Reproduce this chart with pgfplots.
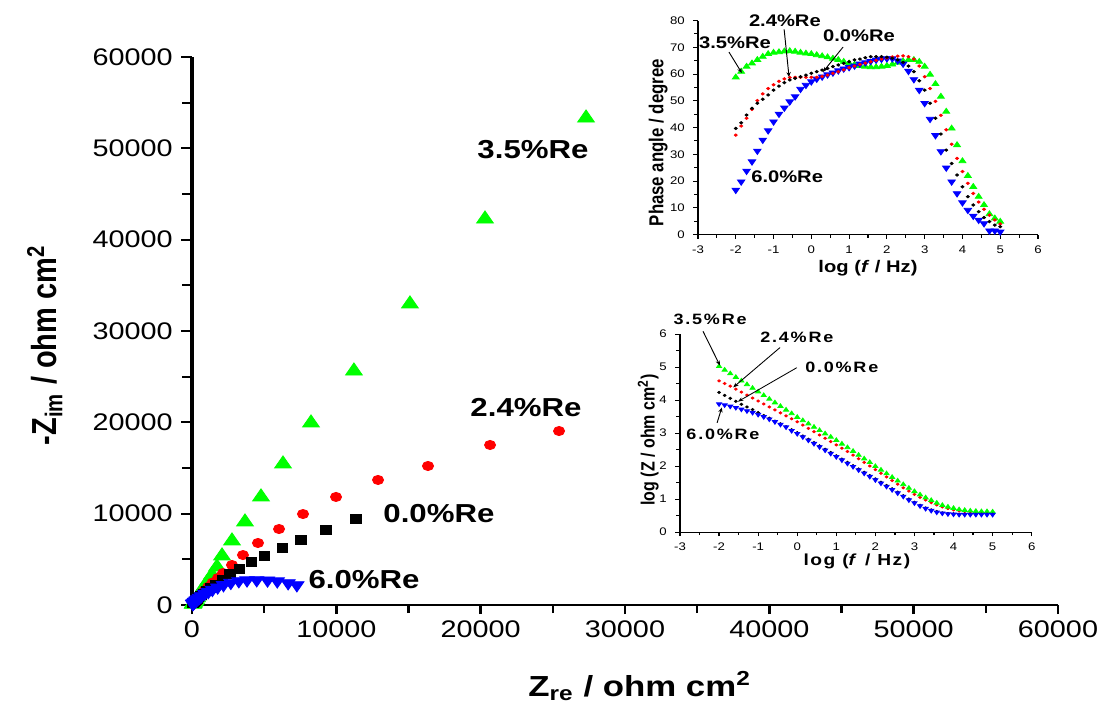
\documentclass[border=0pt]{standalone}
\usepackage{fontspec}
\setmainfont{Liberation Sans}
\usepackage{graphicx}
\usepackage{pgfplots}
\pgfplotsset{compat=1.18}
\usepackage{pgfplotstable}
\usetikzlibrary{arrows.meta}

\definecolor{cgreen}{RGB}{0,255,0}
\definecolor{cred}{RGB}{255,0,0}
\definecolor{cblue}{RGB}{0,0,255}

% Nyquist data (Z_re, -Z_im) in ohm cm^2
\pgfplotstableread{
x y
11360 9420
9280 8210
7550 7120
6240 6240
4990 5370
4090 4710
3260 3940
2630 3390
2080 2740
1640 2250
1290 1860
1010 1530
790 1260
620 1030
480 840
375 690
290 560
225 455
175 370
135 300
105 245
82 200
64 160
}\nyqZero
\pgfplotstableread{
x y
25430 19050
20650 17520
16350 15220
12890 13690
9980 11830
7690 9960
6030 8320
4570 6790
3530 5470
2770 4380
2150 3500
1800 2960
1420 2450
1120 1990
880 1610
690 1300
540 1050
420 840
330 670
255 535
200 425
155 335
122 265
95 210
75 165
60 130
}\nyqTwoFour
\pgfplotstableread{
x y
27300 53320
20300 42260
15100 32960
11220 25620
8245 19930
6305 15440
4780 11830
3670 9090
2770 7010
2080 5370
1730 4160
1385 3285
1110 2600
880 2050
700 1610
555 1270
440 1000
350 790
280 620
225 490
180 385
145 300
118 235
97 185
80 145
67 112
57 88
}\nyqThreeFive
\pgfplotstableread{
x y
7266 2180
6660 2398
5907 2605
5232 2700
4483 2727
3812 2709
3244 2618
2690 2439
2182 2188
1780 1937
1415 1669
1130 1427
881 1231
658 973
517 802
400 645
311 517
241 414
187 331
145 265
114 211
88 169
68 135
53 108
}\nyqSix

% Bode data: log f, then one column per alloy
\pgfplotstableread{
lf b r g bl
-2.000 39.7 37.2 58.8 16.7
-1.857 41.8 40.6 60.9 19.8
-1.714 44.7 43.5 62.8 23.8
-1.571 47.2 46.8 64.0 27.3
-1.429 49.1 50.1 65.3 31.3
-1.286 50.6 52.6 66.5 35.4
-1.143 52.2 54.6 67.5 38.9
-1.000 54.0 56.0 68.0 42.2
-0.857 55.5 57.3 68.2 45.1
-0.714 56.8 58.2 68.5 47.4
-0.571 57.8 58.7 68.6 49.7
-0.429 58.4 58.8 68.4 51.6
-0.286 59.0 58.8 68.0 54.4
-0.143 59.6 58.8 67.7 55.9
0.000 60.3 58.8 67.5 57.2
0.143 60.9 58.8 67.1 58.2
0.286 61.5 59.1 66.7 59.0
0.429 62.1 59.6 66.3 59.8
0.571 62.8 60.3 65.8 60.5
0.714 63.4 60.9 65.3 61.3
0.857 64.0 61.6 64.6 62.0
1.000 64.6 62.4 64.0 62.5
1.143 65.3 63.0 63.5 63.1
1.286 65.6 63.6 63.1 63.8
1.429 66.1 64.1 62.8 64.3
1.571 66.5 64.6 62.6 64.8
1.714 66.5 65.1 62.6 65.3
1.857 66.5 65.6 62.8 65.6
2.000 66.3 66.0 63.1 65.8
2.143 65.9 66.4 63.6 65.8
2.286 65.3 66.7 64.3 65.0
2.429 64.4 66.8 64.8 63.8
2.571 63.0 66.5 65.3 61.1
2.714 60.9 65.6 65.3 58.0
2.857 57.5 63.0 64.6 54.0
3.000 54.0 59.0 62.8 49.1
3.143 49.1 54.6 59.8 43.2
3.286 43.5 49.8 56.3 37.1
3.429 37.6 44.6 51.6 31.1
3.571 31.6 39.2 46.0 25.0
3.714 26.6 33.8 39.7 19.8
3.857 22.3 28.5 33.5 15.4
4.000 17.9 23.6 27.5 12.0
4.143 14.2 19.2 22.0 9.2
4.286 11.1 15.4 17.9 7.0
4.429 8.6 12.2 14.2 5.5
4.571 6.4 9.5 11.1 4.2
4.714 4.9 7.3 7.7 1.5
4.857 3.6 5.5 6.1 1.5
5.000 3.0 4.0 4.9 1.1
}\phase
\pgfplotstableread{
lf b r g bl
-2.000 4.23 4.58 5.02 3.88
-1.857 4.14 4.50 4.91 3.85
-1.714 4.05 4.42 4.80 3.81
-1.571 3.96 4.33 4.69 3.77
-1.429 3.87 4.24 4.58 3.72
-1.286 3.79 4.15 4.47 3.67
-1.143 3.71 4.06 4.36 3.62
-1.000 3.62 3.97 4.25 3.56
-0.857 3.53 3.88 4.14 3.49
-0.714 3.45 3.79 4.03 3.42
-0.571 3.36 3.70 3.92 3.34
-0.429 3.28 3.61 3.81 3.26
-0.286 3.19 3.52 3.70 3.18
-0.143 3.10 3.43 3.59 3.07
0.000 3.01 3.34 3.48 2.98
0.143 2.91 3.24 3.38 2.88
0.286 2.81 3.14 3.28 2.78
0.429 2.71 3.04 3.18 2.68
0.571 2.61 2.94 3.08 2.58
0.714 2.51 2.84 2.98 2.48
0.857 2.41 2.74 2.88 2.38
1.000 2.31 2.64 2.78 2.28
1.143 2.21 2.54 2.67 2.18
1.286 2.11 2.44 2.56 2.08
1.429 2.01 2.33 2.45 1.98
1.571 1.91 2.22 2.33 1.88
1.714 1.81 2.11 2.22 1.78
1.857 1.71 2.00 2.11 1.68
2.000 1.61 1.89 1.99 1.58
2.143 1.51 1.78 1.88 1.48
2.286 1.41 1.67 1.77 1.38
2.429 1.31 1.56 1.66 1.28
2.571 1.21 1.45 1.55 1.18
2.714 1.10 1.34 1.44 1.08
2.857 1.00 1.24 1.33 0.97
3.000 0.90 1.14 1.23 0.88
3.143 0.81 1.05 1.13 0.79
3.286 0.73 0.97 1.04 0.71
3.429 0.67 0.89 0.96 0.65
3.571 0.62 0.82 0.88 0.60
3.714 0.58 0.76 0.81 0.57
3.857 0.56 0.71 0.76 0.55
4.000 0.55 0.67 0.72 0.54
4.143 0.54 0.64 0.68 0.53
4.286 0.54 0.62 0.66 0.53
4.429 0.54 0.61 0.64 0.53
4.571 0.54 0.60 0.63 0.53
4.714 0.54 0.60 0.62 0.53
4.857 0.54 0.59 0.62 0.53
5.000 0.54 0.59 0.61 0.53
}\modulus

\pgfplotsset{
  insetaxis/.style={
    scale only axis, axis lines*=left, tick align=outside,
    axis line style={line width=0.5pt},
    tick style={line width=0.5pt, black},
    major tick length=2pt, minor tick length=1.5pt,
    xmin=-3, xmax=6, xtick={-3,...,6}, minor x tick num=1,
    minor y tick num=1,
    tick label style={font=\fontsize{5.5}{5.5}\selectfont},
    /pgf/number format/assume math mode=true,
    clip mode=individual,
  },
}
\tikzset{
  lab/.style={font=\bfseries\fontsize{8.4}{8.4}\selectfont, inner sep=0pt},
  labz/.style={font=\bfseries\fontsize{7.5}{7.5}\selectfont\addfontfeature{LetterSpace=10}, inner sep=0pt},
  arr/.style={-{Stealth[length=2.4pt,width=1.8pt]}, line width=0.4pt},
}

\begin{document}
\scalebox{1.2}[1]{%
\begin{tikzpicture}
% ---------- Nyquist plot ----------
\begin{axis}[
  at={(80pt,52pt)}, anchor=south west,
  scale only axis, width=360.83pt, height=274pt,
  xmin=0, xmax=60000, ymin=0, ymax=60000,
  axis lines*=left, axis line style={line width=1.3pt},
  tick align=outside,
  xtick={0,10000,...,60000}, ytick={0,10000,...,60000},
  minor x tick num=1, minor y tick num=1,
  major tick length=4.5pt, minor tick length=4pt,
  tick style={line width=1.1pt, black},
  scaled ticks=false,
  /pgf/number format/assume math mode=true,
  /pgf/number format/1000 sep={},
  tick label style={font=\fontsize{12}{12}\selectfont},
  clip mode=individual,
  xlabel={Z\textsubscript{re} / ohm cm\textsuperscript{2}},
  ylabel={-Z\textsubscript{im} / ohm cm\textsuperscript{2}},
  label style={font=\bfseries\fontsize{14.5}{14.5}\selectfont},
  xlabel style={at={(axis description cs:0.517,-0.148)}, anchor=center},
  ylabel style={at={(axis description cs:-0.17,0.474)}, anchor=center},
]
\addplot[only marks, mark=triangle*, mark size=4pt, color=cgreen] table {\nyqThreeFive};
\addplot[only marks, mark=*, mark size=2.3pt, color=cred] table {\nyqTwoFour};
\addplot[only marks, mark=square*, mark size=2.1pt, color=black] table {\nyqZero};
\addplot[only marks, mark=triangle*, mark options={rotate=180}, mark size=3.4pt, color=cblue] table {\nyqSix};
\node[font=\bfseries\fontsize{13}{13}\selectfont] at (axis cs:23625,49820) {3.5\%Re};
\node[font=\bfseries\fontsize{13}{13}\selectfont] at (axis cs:23140,21570) {2.4\%Re};
\node[font=\bfseries\fontsize{13}{13}\selectfont] at (axis cs:17110,9960) {0.0\%Re};
\node[font=\bfseries\fontsize{13}{13}\selectfont] at (axis cs:11920,2740) {6.0\%Re};
\end{axis}

% ---------- Bode phase ----------
\begin{axis}[
  insetaxis,
  at={(290.83pt,237.15pt)}, anchor=south west,
  width=141.67pt, height=107.1pt,
  ymin=0, ymax=80, ytick={0,10,...,80},
  xlabel={log (\textit{f} / Hz)},
  ylabel={Phase angle / degree},
  label style={font=\bfseries\fontsize{8.4}{8.4}\selectfont},
  xlabel style={at={(axis description cs:0.5,-0.155)}, anchor=center},
  ylabel style={at={(axis description cs:-0.117,0.43)}, anchor=center},
]
\addplot[only marks, mark=triangle*, mark size=1.6pt, color=cgreen] table[x=lf, y=g] {\phase};
\addplot[only marks, mark=triangle*, mark options={rotate=180}, mark size=1.75pt, color=cblue] table[x=lf, y=bl] {\phase};
\addplot[only marks, mark=*, mark size=0.6pt, color=cred] table[x=lf, y=r] {\phase};
\addplot[only marks, mark=*, mark size=0.6pt, color=black] table[x=lf, y=b] {\phase};
\node[lab] at (axis cs:-2.02,71.6) {3.5\%Re};
\draw[arr] (axis cs:-2.18,68.2) -- (axis cs:-1.84,60.4);
\node[lab] at (axis cs:-0.70,80.0) {2.4\%Re};
\draw[arr] (axis cs:-0.72,76.7) -- (axis cs:-0.59,58.9);
\node[lab] at (axis cs:1.26,74.2) {0.0\%Re};
\draw[arr] (axis cs:0.84,70.1) -- (axis cs:0.31,60.8);
\node[lab] at (axis cs:-0.64,21.6) {6.0\%Re};
\end{axis}

% ---------- Bode modulus ----------
\begin{axis}[
  insetaxis,
  at={(283.33pt,88.5pt)}, anchor=south west,
  width=146.54pt, height=99pt,
  ymin=0, ymax=6, ytick={0,...,6},
  xlabel={log (\textit{f} / Hz)},
  ylabel={log (Z / ohm cm\textsuperscript{2})},
  label style={font=\bfseries\fontsize{8}{8}\selectfont},
  xlabel style={at={(axis description cs:0.503,-0.15)}, anchor=center, font=\bfseries\fontsize{8}{8}\selectfont\addfontfeature{LetterSpace=8}},
  ylabel style={at={(axis description cs:-0.09,0.465)}, anchor=center},
]
\addplot[only marks, mark=*, mark size=0.55pt, color=cred] table[x=lf, y=r] {\modulus};
\addplot[only marks, mark=triangle*, mark size=1.2pt, color=cgreen] table[x=lf, y=g] {\modulus};
\addplot[only marks, mark=*, mark size=0.55pt, color=black] table[x=lf, y=b] {\modulus};
\addplot[only marks, mark=triangle*, mark options={rotate=180}, mark size=1.2pt, color=cblue] table[x=lf, y=bl] {\modulus};
\node[labz] at (axis cs:-2.23,6.44) {3.5\%Re};
\draw[arr] (axis cs:-2.41,6.08) -- (axis cs:-1.98,5.05);
\node[labz] at (axis cs:-0.01,5.90) {2.4\%Re};
\draw[arr] (axis cs:-0.44,5.59) -- (axis cs:-1.64,4.38);
\node[labz] at (axis cs:1.14,4.98) {0.0\%Re};
\draw[arr] (axis cs:-0.01,4.98) -- (axis cs:-1.52,3.95);
\node[labz] at (axis cs:-1.90,2.95) {6.0\%Re};
\draw[arr] (axis cs:-2.05,3.31) -- (axis cs:-1.93,3.77);
\end{axis}

\pgfresetboundingbox
\path[use as bounding box] (0,0) rectangle (459.17pt,354.5pt);
\end{tikzpicture}%
}
\end{document}
